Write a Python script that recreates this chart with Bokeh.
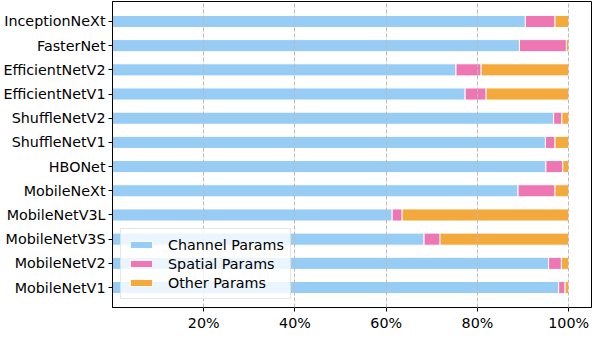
from bokeh.plotting import figure
from bokeh.models import ColumnDataSource, Range1d, FixedTicker, PrintfTickFormatter
from bokeh.embed import file_html
from bokeh.resources import INLINE

models = ["MobileNetV1", "MobileNetV2", "MobileNetV3S", "MobileNetV3L", "MobileNeXt",
          "HBONet", "ShuffleNetV1", "ShuffleNetV2", "EfficientNetV1", "EfficientNetV2",
          "FasterNet", "InceptionNeXt"]
channel = [97.8, 95.6, 68.3, 61.3, 88.9, 95.0, 94.9, 96.7, 77.3, 75.3, 89.2, 90.5]
spatial = [1.4, 2.8, 3.5, 2.2, 8.1, 3.7, 2.1, 1.8, 4.6, 5.5, 10.3, 6.5]
other = [0.8, 1.6, 28.2, 36.5, 3.0, 1.3, 3.0, 1.5, 18.1, 19.2, 0.5, 3.0]
series_names = ["Channel Params", "Spatial Params", "Other Params"]
x_ticks = [20, 40, 60, 80, 100]

colors = ["#97CCF5", "#EE76B2", "#F3A93C"]
FONT = "DejaVu Sans"

source = ColumnDataSource(dict(y=list(range(len(models))), channel=channel,
                               spatial=spatial, other=other))

p = figure(width=592, frame_height=306, output_backend="svg", toolbar_location=None,
           x_range=Range1d(0, 105), y_range=Range1d(-0.825, 11.825),
           min_border_right=1, min_border_top=1, min_border_bottom=0)

p.hbar_stack(["channel", "spatial", "other"], y="y", height=0.5, color=colors,
             line_color="white", line_width=1, source=source,
             legend_label=series_names)

p.xaxis.ticker = FixedTicker(ticks=x_ticks)
p.xaxis.formatter = PrintfTickFormatter(format="%d%%")
p.yaxis.ticker = FixedTicker(ticks=list(range(len(models))))
p.yaxis.major_label_overrides = {i: m for i, m in enumerate(models)}

for ax in (p.xaxis, p.yaxis):
    ax.axis_label = None
    ax.axis_label_standoff = 0
    ax.major_label_text_font = FONT
    ax.major_label_text_font_size = "14.3px"
    ax.major_label_text_color = "black"
    ax.axis_line_color = "black"
    ax.axis_line_width = 1
    ax.major_tick_line_color = "black"
    ax.major_tick_in = 0
    ax.major_tick_out = 4
    ax.minor_tick_line_color = None
    ax.major_label_standoff = 3

p.ygrid.grid_line_color = None
p.xgrid.grid_line_color = "#bbbbbb"
p.xgrid.grid_line_dash = "4 2"
p.xgrid.grid_line_width = 1
p.xgrid.level = "guide"

p.outline_line_color = "black"
p.outline_line_width = 1
p.background_fill_color = "white"

lg = p.legend[0]
lg.location = "bottom_left"
lg.margin = 8
lg.padding = 6
lg.spacing = 0
lg.label_height = 19
lg.glyph_height = 9
lg.glyph_width = 28
lg.label_standoff = 13
lg.label_text_font = FONT
lg.label_text_font_size = "14.3px"
lg.label_text_color = "black"
lg.border_line_color = "#cccccc"
lg.border_line_width = 1
lg.background_fill_alpha = 0.8

open("out.html", "w").write(file_html(p, INLINE))
